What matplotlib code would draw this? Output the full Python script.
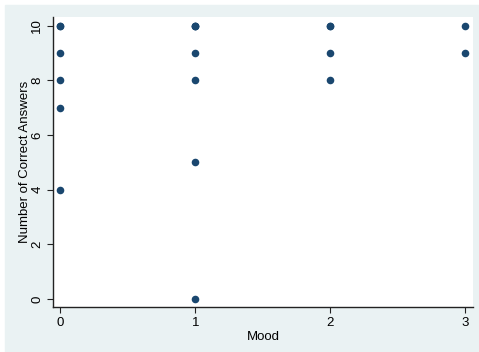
import matplotlib
matplotlib.use('Agg')
import matplotlib.pyplot as plt
from matplotlib.patches import Rectangle

plt.rcParams['font.family'] = ['Liberation Sans', 'DejaVu Sans']

# mood score vs. number of correct answers (overlapping points repeated)
mood = [0, 0, 0, 0, 0, 0,
        1, 1, 1, 1, 1, 1, 1,
        2, 2, 2, 2,
        3, 3]
correct = [10, 10, 9, 8, 7, 4,
           10, 10, 10, 9, 8, 5, 0,
           10, 10, 9, 8,
           10, 9]
xticks = [0, 1, 2, 3]
yticks = [0, 2, 4, 6, 8, 10]

W, H = 479, 352
fig = plt.figure(figsize=(W / 100, H / 100), dpi=100, facecolor='white')
# stata-style graph region, behind the axes
fig.patches.append(Rectangle((5 / W, 0), 1 - 5 / W, (H - 5) / H,
                             transform=fig.transFigure, color='#eaf2f3', zorder=-10))

ax = fig.add_axes([53 / W, (H - 307) / H, 420 / W, 290 / H])
ax.set_facecolor('white')
ax.scatter(mood, correct, s=30, color='#1a476f', zorder=3, linewidths=0)

ax.set_xlim(-0.054, 3.057)
ax.set_ylim(-0.29, 10.32)
ax.set_xticks(xticks)
ax.set_yticks(yticks)
ax.set_yticklabels([str(v) for v in yticks], rotation=90, va='center')

for s in ['top', 'right']:
    ax.spines[s].set_visible(False)
for s in ['left', 'bottom']:
    ax.spines[s].set_color('#222222')
    ax.spines[s].set_linewidth(1.0)
ax.tick_params(direction='out', length=4, width=0.8, color='#222222',
               labelsize=9.5, pad=3)

ax.set_xlabel('Mood', fontsize=9.5, labelpad=2)
ax.set_ylabel('Number of Correct Answers', fontsize=9.5, labelpad=0)

fig.savefig('out.png', dpi=100, facecolor=fig.get_facecolor())
